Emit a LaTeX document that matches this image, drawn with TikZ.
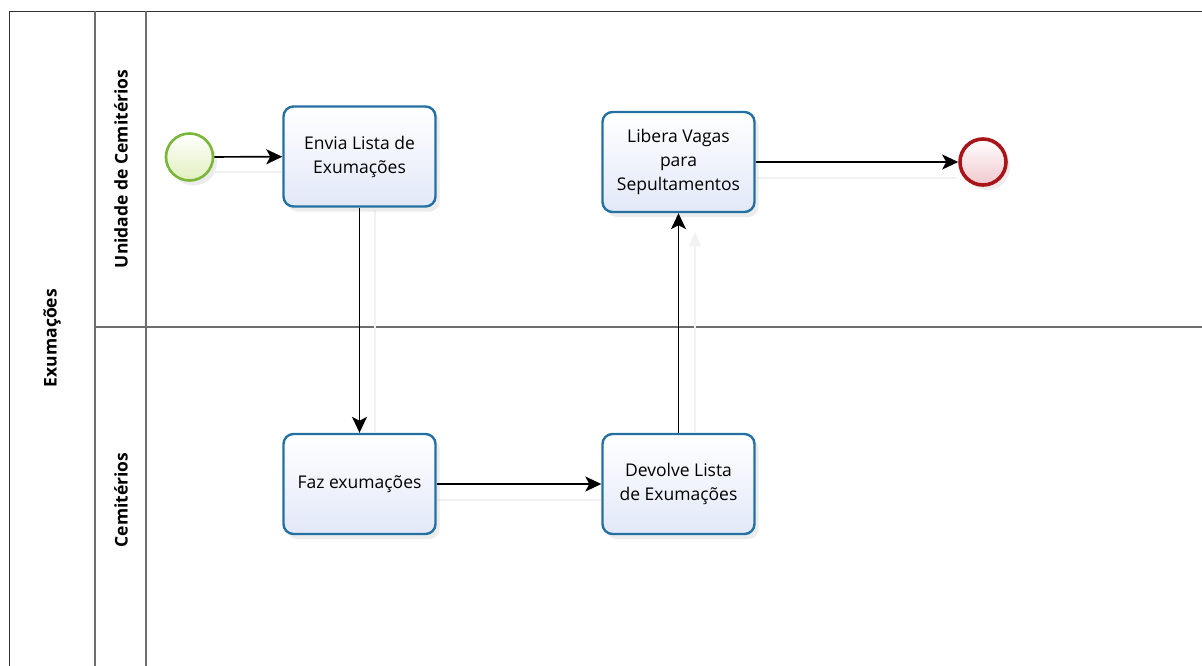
\documentclass[tikz,border=0pt]{standalone}
\usepackage{fontspec}
\setmainfont{Open Sans}
\usetikzlibrary{arrows.meta,shadows}
\definecolor{taskblue}{RGB}{36,112,160}
\definecolor{taskfill}{RGB}{226,232,248}
\definecolor{startgreen}{RGB}{122,182,56}
\definecolor{startfill}{RGB}{226,240,190}
\definecolor{endred}{RGB}{168,20,24}
\definecolor{endfill}{RGB}{240,200,205}
\definecolor{poolline}{RGB}{110,110,110}
\tikzset{
  task/.style={draw=taskblue, line width=2.4pt, rounded corners=10pt,
    minimum width=152pt, minimum height=100pt, align=center,
    top color=white, bottom color=taskfill, font=\fontsize{17.5}{24}\selectfont,
    drop shadow={shadow xshift=4pt, shadow yshift=-5pt, opacity=0.15}},
  startev/.style={circle, draw=startgreen, line width=2.6pt, minimum size=47pt,
    inner sep=0pt, top color=white, bottom color=startfill,
    drop shadow={shadow xshift=4pt, shadow yshift=-5pt, opacity=0.15}},
  endev/.style={circle, draw=endred, line width=3.6pt, minimum size=46pt,
    inner sep=0pt, top color=white, bottom color=endfill,
    drop shadow={shadow xshift=4pt, shadow yshift=-5pt, opacity=0.15}},
  flow/.style={draw=black, line width=1.7pt, -{Stealth[length=16pt,width=15pt,inset=4pt]}},
  flowshadow/.style={draw=black!5, line width=1.5pt},
  poolln/.style={draw=poolline, line width=1.3pt},
  lanelabel/.style={rotate=90, font=\bfseries\fontsize{17.5}{20}\selectfont}
}
\begin{document}
\begin{tikzpicture}[x=1pt,y=-1pt]
\useasboundingbox (0,0) rectangle (1202,666);
\fill[white] (0,0) rectangle (1202,666);
% pool and lanes
\coordinate (pTL) at (9.5,11.5);
\coordinate (pBL) at (9.5,667);
\coordinate (pTR) at (1203,11.5);
\draw[poolln, draw=black!80] (pBL) -- (pTL) -- (pTR);
\draw[poolln] (95,11.5) -- (95,667);
\draw[poolln] (146,11.5) -- (146,667);
\draw[poolln] (95,327) -- (1203,327);
\node[lanelabel] (poolname) at (52,338) {Exumações};
\node[lanelabel] (lane1) at (121,169) {Unidade de Cemitérios};
\node[lanelabel] (lane2) at (121,500) {Cemitérios};
% connector shadows
\draw[flowshadow] (215,172) -- (282,172);
\draw[flowshadow] (375,210) -- (375,432);
\draw[flowshadow] (437,500) -- (601,500);
\draw[flowshadow] (695,432) -- (695,240);
\fill[black!5] (695,232) -- (689,246) -- (701,246) -- cycle;
\draw[flowshadow] (757,178) -- (957,178);
% nodes
\node[startev] (start) at (189.5,157) {};
\node[task] (envia) at (359.5,156.5) {Envia Lista de\\Exumações};
\node[task] (libera) at (678.5,162) {Libera Vagas\\para\\Sepultamentos};
\node[endev] (end) at (983,162) {};
\node[task] (faz) at (359.5,484) {Faz exumações};
\node[task] (devolve) at (678.5,484) {Devolve Lista\\de Exumações};
% flows
\draw[flow] (start) -- (envia);
\draw[flow] (envia) -- (faz);
\draw[flow] (faz) -- (devolve);
\draw[flow] (devolve) -- (libera);
\draw[flow] (libera) -- (end);
\end{tikzpicture}
\end{document}
